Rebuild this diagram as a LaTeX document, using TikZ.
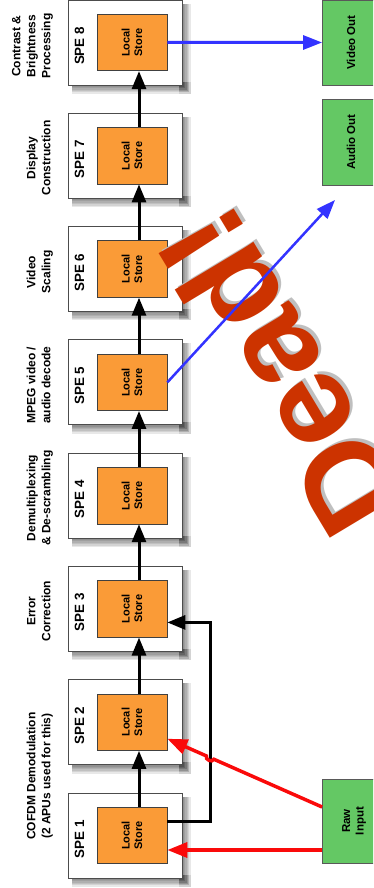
\documentclass[tikz,border=0pt]{standalone}
\usepackage{fontspec}
\setmainfont{Liberation Sans}
\usetikzlibrary{arrows.meta,calc}
\definecolor{storeor}{RGB}{250,155,55}
\definecolor{grn}{RGB}{100,200,100}
\definecolor{deadred}{RGB}{204,51,0}
\definecolor{blu}{RGB}{51,51,255}
\definecolor{rd}{RGB}{250,10,10}
\begin{document}
\begin{tikzpicture}[x=1pt,y=-1pt,
 spebox/.style={draw=black!70, line width=0.8pt, fill=white, minimum width=114pt, minimum height=85pt, inner sep=0pt},
 store/.style={draw=black!75, line width=0.7pt, fill=storeor, minimum width=70pt, minimum height=56.5pt, inner sep=0pt},
 storetext/.style={rotate=90, align=center, font=\bfseries\fontsize{11}{12.6}\selectfont, inner sep=0pt},
 spelabel/.style={rotate=90, font=\bfseries\fontsize{13.4}{14}\selectfont, inner sep=0pt},
 steplabel/.style={rotate=90, anchor=south, align=center, font=\bfseries\fontsize{12}{15}\selectfont, inner sep=0pt, text depth=3pt},
 greenbox/.style={draw=black!65, line width=0.8pt, fill=grn, minimum width=55.5pt, inner sep=0pt},
 greentext/.style={rotate=90, align=center, font=\bfseries\fontsize{11.5}{13.5}\selectfont, inner sep=0pt},
 blk/.style={draw=black, line width=3pt, -{Triangle[length=18pt,width=14pt]}},
 redarr/.style={draw=rd, line width=3.5pt, -{Triangle[length=20pt,width=15pt]}},
 bluarr/.style={draw=blu, line width=3pt, -{Triangle[length=19pt,width=14pt]}},
 deadtxt/.style={rotate=121, font=\bfseries\fontsize{127}{127}\selectfont, inner sep=0pt}
]
\useasboundingbox (0,0) rectangle (373,888);
\clip (0,0) rectangle (373,888);
% SPE boxes
\foreach \k in {1,...,8}{
  \pgfmathsetmacro\cy{835.5-(\k-1)*113.286}
  \node[spebox] (s\k) at (125,\cy) {};
}
\foreach \k in {1,...,8}{
  \foreach \r in {1,...,6}{
    \fill[black, opacity=0.09] ($(s\k.north east)+(-3,4)$) rectangle ($(s\k.south east)+(\r*1.4,\r*1.4)$);
    \fill[black, opacity=0.09] ($(s\k.south west)+(4,-3)$) rectangle ($(s\k.south east)+(\r*1.4,\r*1.4)$);
  }
  \node[spebox] (w\k) at (s\k.center) {};
  \pgfmathsetmacro\cy{835.5-(\k-1)*113.286}
  \node[store] (l\k) at (132,\cy) {};
  \node[storetext] (t\k) at (l\k.center) {Local\\Store};
  \node[spelabel] (p\k) at (79.5,\cy+3.5) {SPE \k};
}
% step labels
\node[steplabel] (c1) at (53.6,776) {COFDM Demodulation\\(2 APUs used for this)};
\node[steplabel] (c3) at (53.6,611) {Error\\Correction};
\node[steplabel] (c4) at (53.6,498) {Demultiplexing\\\& De-scrambling};
\node[steplabel] (c5) at (53.6,385) {MPEG video /\\audio decode};
\node[steplabel] (c6) at (53.6,272) {Video\\Scaling};
\node[steplabel] (c7) at (53.6,158) {Display\\Construction};
\node[steplabel] (c8) at (53.6,46) {Contrast \&\\Brightness\\Processing};
% green boxes
\node[greenbox, minimum height=85pt] (vout) at (350.25,42.5) {};
\node[greentext] (vt) at (351,42.5) {Video Out};
\node[greenbox, minimum height=86pt] (aout) at (350.25,142) {};
\node[greentext] (at) at (351,142) {Audio Out};
\node[greenbox, minimum height=84pt] (raw) at (350.25,821) {};
\node[greentext] (rt) at (354,821) {Raw\\Input};
% Dead!
\node[deadtxt, text=black!25] (dsh) at (283,370) {Dead!};
\node[deadtxt, text=deadred] (dd) at (280,373) {Dead!};
% black chain
\foreach \k/\j in {1/2,2/3,3/4,4/5,5/6,6/7,7/8}{
  \draw[blk] ([xshift=7pt]l\k.north) -- ([xshift=7pt]l\j.south);
}
\draw[blk, line join=miter] ([yshift=13.75pt]l1.east) -- ++(43,0) |- ([yshift=-13.5pt]l3.east);
% red
\draw[redarr] ([yshift=-29pt]raw.west) -- ([yshift=-14.5pt]l1.east);
\coordinate (ra) at ([yshift=14pt]raw.west);
\coordinate (rb) at ([yshift=-16.5pt]l2.east);
\coordinate (h1) at ($(ra)!0.6995!(rb)$);
\coordinate (h2) at ($(ra)!0.7475!(rb)$);
\draw[redarr] (ra) -- (h1) .. controls ($(h1)!4pt!90:(h2)$) and ($(h2)!4pt!-90:(h1)$) .. (h2) -- (rb);
% blue
\draw[bluarr] (l8.east) -- (vout.west);
\coordinate (bend) at (335,200);
\draw[bluarr, line width=2.5pt] (l5.east) -- (bend);
\end{tikzpicture}
\end{document}
